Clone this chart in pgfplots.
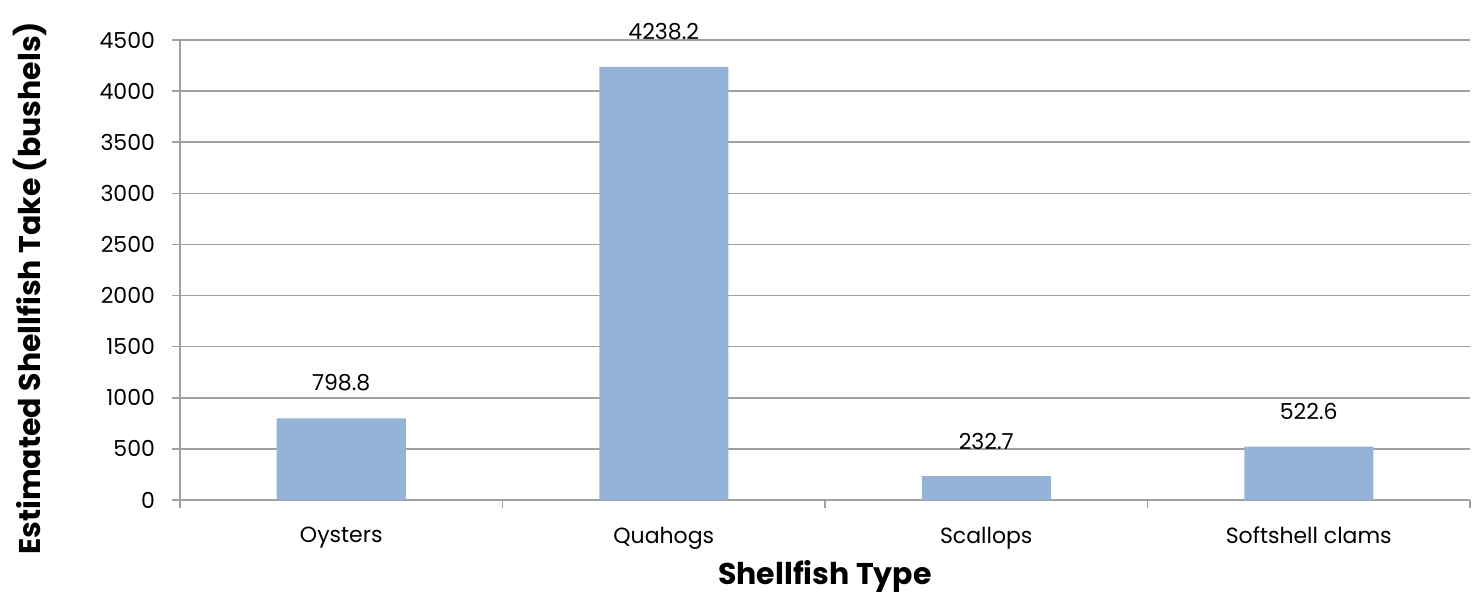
\documentclass[border=0pt]{standalone}
\usepackage{fontspec}
\setmainfont{Poppins}
\usepackage{pgfplots}
\pgfplotsset{compat=1.18}
\definecolor{barblue}{HTML}{95B3D7}
\definecolor{gridgray}{HTML}{A0A0A0}
\begin{document}
\begin{tikzpicture}
\begin{axis}[
  at={(0,0)}, anchor=south west,
  scale only axis,
  width=645pt, height=230pt,
  xmin=-0.5, xmax=3.5,
  ymin=0, ymax=4500,
  ytick={0,500,...,4500},
  xtick={-0.5,0.5,1.5,2.5,3.5},
  x tick label as interval,
  xticklabels={Oysters,Quahogs,Scallops,Softshell clams},
  axis x line*=bottom,
  axis y line*=left,
  axis line style={gridgray, line width=0.8pt},
  ymajorgrids,
  grid style={gridgray, line width=0.8pt},
  major tick style={gridgray, line width=0.8pt},
  tick align=outside,
  major tick length=4pt,
  /pgf/number format/assume math mode=true,
  /pgf/number format/1000 sep={},
  tick label style={font=\fontsize{11pt}{13pt}\selectfont},
  yticklabel style={xshift=-5pt},
  xticklabel style={yshift=-6pt},
  xlabel={\textbf{Shellfish Type}},
  ylabel={\textbf{Estimated Shellfish Take (bushels)}},
  label style={font=\fontsize{15pt}{17pt}\selectfont},
  xlabel style={at={(rel axis cs:0.5,0)}, anchor=center, yshift=-38pt},
  ylabel style={at={(rel axis cs:0,0.46)}, anchor=center, rotate=0, yshift=75pt},
  ybar, bar width=64.5pt,
  nodes near coords,
  nodes near coords style={font=\fontsize{11pt}{13pt}\selectfont, black, yshift=10pt,
    /pgf/number format/fixed, /pgf/number format/precision=1, /pgf/number format/fixed zerofill, /pgf/number format/assume math mode=true},
  clip=false,
]
\addplot[fill=barblue, draw=none] coordinates {(0,798.8) (1,4238.2) (2,232.7) (3,522.6)};
\end{axis}
\useasboundingbox (-90pt,-45.5pt) rectangle (646pt,250pt);
\end{tikzpicture}
\end{document}
